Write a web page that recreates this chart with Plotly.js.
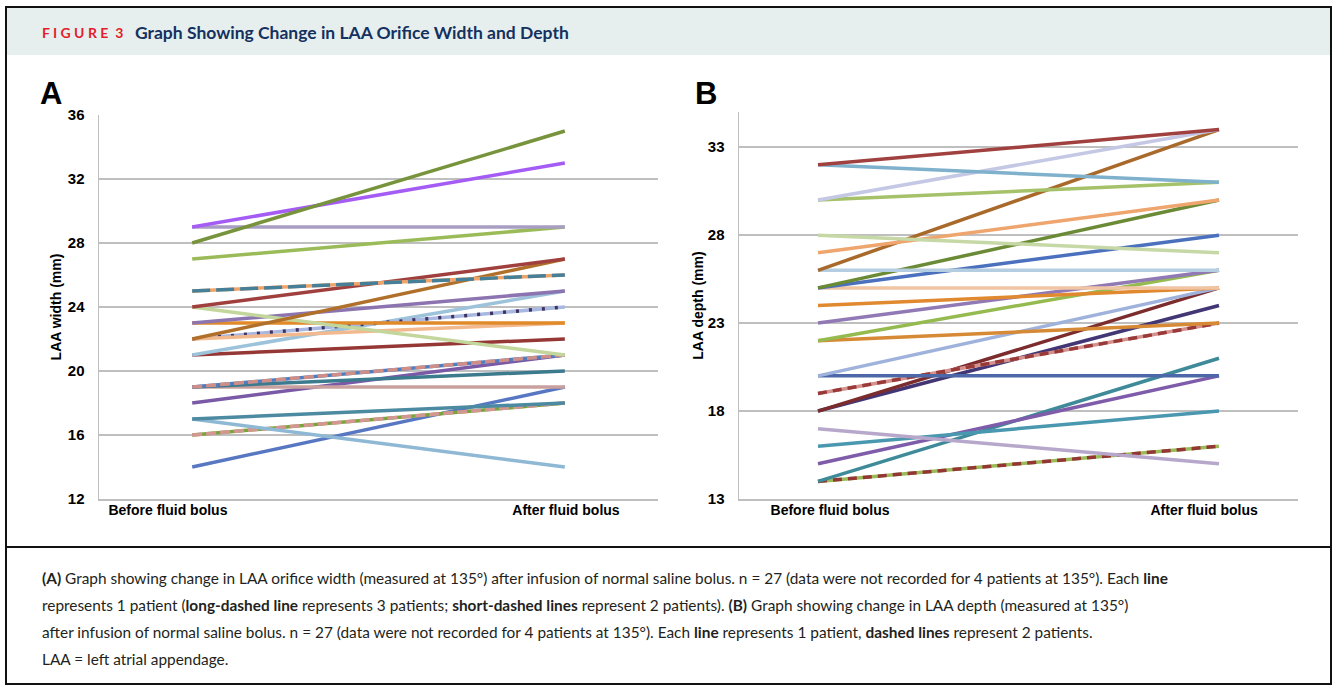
<!DOCTYPE html>
<html>
<head>
<meta charset="utf-8">
<script src="https://cdn.plot.ly/plotly-3.0.1.min.js"></script>
<style>
html,body{margin:0;padding:0;background:#fff;}
#chart{width:1336px;height:690px;}
</style>
</head>
<body>
<div id="chart"></div>
<script>
// ---------- DATA ----------
const categories = ["Before fluid bolus", "After fluid bolus"];
const categoryX = [0, 1];

// Panel A: LAA orifice width (mm)
const widthBefore = [28, 29, 29, 27, 25, 24, 22, 24, 23, 23, 22, 22, 21, 21, 19, 19, 19, 18, 17, 17, 16, 14];
const widthAfter  = [35, 33, 29, 29, 26, 27, 27, 21, 25, 23, 23, 24, 25, 22, 21, 20, 19, 21, 18, 14, 18, 19];
const widthTicks = [12, 16, 20, 24, 28, 32, 36];

// Panel B: LAA depth (mm)
const depthBefore = [32, 32, 30, 30, 28, 27, 26, 26, 25, 25, 25, 24, 23, 22, 22, 20, 20, 19, 18, 18, 17, 16, 15, 14, 14];
const depthAfter  = [34, 31, 34, 31, 27, 30, 34, 26, 30, 28, 25, 25, 26, 26, 23, 25, 20, 23, 25, 24, 15, 18, 20, 21, 16];
const depthTicks = [13, 18, 23, 28, 33];

// ---------- STYLES ----------
const widthColors = ["#77933C","#A45CF5","#A89DC2","#9BBB59","#F0A46A","#A0403E","#B0702A","#C3D69B","#8C74B0","#E08A2A","#F2B98E","#A8B8E0","#9DC3DA","#953735","#4F7DBE","#3C7A8E","#C9A09E","#7A5AA6","#4B8AA0","#8EB8D4","#7AA33C","#5877C2"];
const widthOverlay = [null,null,null,null,["#457F98","18px,6px"],null,null,null,null,null,null,["#3F3160","3px,10px"],null,null,["#CF8E88","10px,4px"],null,null,null,null,null,["#D49690","10px,4px"],null];
const depthColors = ["#A0413F","#7FB0CC","#C4C8E4","#A5C26A","#C6D8A6","#EFA56E","#A8692A","#B4CDE0","#6B8A35","#4A70BE","#F1C4A4","#E0892E","#9079B4","#95BB50","#D68A36","#9FB2DB","#4D68A8","#D4928F","#7C2C2C","#433675","#B7A8CB","#4A98B0","#7E5CAA","#3E8A98","#9BBB59"];
const depthOverlay = [null,null,null,null,null,null,null,null,null,null,null,null,null,null,null,null,null,["#9A3A38","9px,6px"],null,null,null,null,null,null,["#943634","9px,6px"]];

const W = 1336, H = 690;
const PX = x => x / W;
const PY = y => 1 - y / H;

const traces = [];
function addLines(before, after, colors, overlays, xa, ya) {
  for (let i = before.length - 1; i >= 0; i--) {
    const y = [before[i], after[i]];
    traces.push({type:"scatter", mode:"lines", x:categoryX, y:y, xaxis:xa, yaxis:ya,
      line:{color:colors[i], width:3.5}, hoverinfo:"skip", showlegend:false});
    if (overlays[i]) {
      traces.push({type:"scatter", mode:"lines", x:categoryX, y:y, xaxis:xa, yaxis:ya,
        line:{color:overlays[i][0], width:3.5, dash:overlays[i][1]}, hoverinfo:"skip", showlegend:false});
    }
  }
}
addLines(widthBefore, widthAfter, widthColors, widthOverlay, "x", "y");
addLines(depthBefore, depthAfter, depthColors, depthOverlay, "x2", "y2");

const tickFont = {family:"Liberation Sans, Arial, sans-serif", size:15, color:"#000"};
const catFont = {family:"Liberation Sans, Arial, sans-serif", size:14, color:"#000"};
const gridC = "#BFBFBF";

const layout = {
  width: W, height: H,
  margin:{l:0,r:0,t:0,b:0},
  paper_bgcolor:"#fff", plot_bgcolor:"rgba(0,0,0,0)",
  showlegend:false,
  xaxis:{domain:[PX(99),PX(658)], range:[-0.25,1.25], showgrid:false, zeroline:false,
    showline:true, linecolor:gridC, linewidth:1.5,
    tickmode:"array", tickvals:[-0.065,1.003], ticktext:categories.map(c=>"<b>"+c+"</b>"),
    ticks:"", tickfont:catFont, ticklabelstandoff:-2, anchor:"y"},
  yaxis:{domain:[PY(499),PY(115)], range:[12,36], tickmode:"array", tickvals:widthTicks,
    ticktext:widthTicks.map(v=>"<b>"+v+"</b>"), tickfont:tickFont,
    showgrid:true, gridcolor:gridC, gridwidth:1.5, zeroline:false,
    showline:true, linecolor:gridC, linewidth:1.5, ticks:"", ticklabelstandoff:10,
    title:{text:"<b>LAA width (mm)</b>", font:{family:"Liberation Sans, Arial, sans-serif", size:14, color:"#000"}, standoff:3},
    anchor:"x"},
  xaxis2:{domain:[PX(739),PX(1298)], range:[-0.197,1.197], showgrid:false, zeroline:false,
    showline:true, linecolor:gridC, linewidth:1.5,
    tickmode:"array", tickvals:[0.03,0.963], ticktext:categories.map(c=>"<b>"+c+"</b>"),
    ticks:"", tickfont:catFont, ticklabelstandoff:-2, anchor:"y2"},
  yaxis2:{domain:[PY(499),PY(112)], range:[13,35], tickmode:"array", tickvals:depthTicks,
    ticktext:depthTicks.map(v=>"<b>"+v+"</b>"), tickfont:tickFont,
    showgrid:true, gridcolor:gridC, gridwidth:1.5, zeroline:false,
    showline:true, linecolor:gridC, linewidth:1.5, ticks:"", ticklabelstandoff:10,
    title:{text:"<b>LAA depth (mm)</b>", font:{family:"Liberation Sans, Arial, sans-serif", size:14, color:"#000"}, standoff:1},
    anchor:"x2"},
  shapes:[
    {type:"rect", xref:"paper", yref:"paper", x0:PX(7), x1:PX(1330), y0:PY(55), y1:PY(8), fillcolor:"#E7EFEE", line:{width:0}, layer:"below"},
    {type:"rect", xref:"paper", yref:"paper", x0:PX(6), x1:PX(1331), y0:PY(684), y1:PY(7), line:{color:"#111", width:2}, fillcolor:"rgba(0,0,0,0)"},
    {type:"line", xref:"paper", yref:"paper", x0:PX(6), x1:PX(1331), y0:PY(547), y1:PY(547), line:{color:"#111", width:2}}
  ],
  annotations:[
    {xref:"paper", yref:"paper", x:PX(40), y:PY(33), xanchor:"left", yanchor:"middle", showarrow:false,
      text:"<b>F I G U R E  3</b>", font:{family:"Lato, sans-serif", size:14, color:"#E31D2B"}},
    {xref:"paper", yref:"paper", x:PX(133), y:PY(33), xanchor:"left", yanchor:"middle", showarrow:false,
      text:"<b>Graph Showing Change in LAA Orifice Width and Depth</b>", font:{family:"Lato, sans-serif", size:17.5, color:"#14315F"}},
    {xref:"paper", yref:"paper", x:PX(38), y:PY(93), xanchor:"left", yanchor:"middle", showarrow:false,
      text:"<b>A</b>", font:{family:"Liberation Sans, Arial, sans-serif", size:31, color:"#000"}},
    {xref:"paper", yref:"paper", x:PX(693), y:PY(93), xanchor:"left", yanchor:"middle", showarrow:false,
      text:"<b>B</b>", font:{family:"Liberation Sans, Arial, sans-serif", size:31, color:"#000"}},
    {xref:"paper", yref:"paper", x:PX(40), y:PY(578), xanchor:"left", yanchor:"middle", showarrow:false,
      text:"<b>(A)</b> Graph showing change in LAA orifice width (measured at 135°) after infusion of normal saline bolus. n = 27 (data were not recorded for 4 patients at 135°). Each <b>line</b>",
      font:{family:"Lato, sans-serif", size:15.4, color:"#231F20"}},
    {xref:"paper", yref:"paper", x:PX(40), y:PY(605), xanchor:"left", yanchor:"middle", showarrow:false,
      text:"represents 1 patient (<b>long-dashed line</b> represents 3 patients; <b>short-dashed lines</b> represent 2 patients). <b>(B)</b> Graph showing change in LAA depth (measured at 135°)",
      font:{family:"Lato, sans-serif", size:15.4, color:"#231F20"}},
    {xref:"paper", yref:"paper", x:PX(40), y:PY(632), xanchor:"left", yanchor:"middle", showarrow:false,
      text:"after infusion of normal saline bolus. n = 27 (data were not recorded for 4 patients at 135°). Each <b>line</b> represents 1 patient, <b>dashed lines</b> represent 2 patients.",
      font:{family:"Lato, sans-serif", size:15.4, color:"#231F20"}},
    {xref:"paper", yref:"paper", x:PX(40), y:PY(659), xanchor:"left", yanchor:"middle", showarrow:false,
      text:"LAA = left atrial appendage.",
      font:{family:"Lato, sans-serif", size:15.4, color:"#231F20"}}
  ]
};

Plotly.newPlot("chart", traces, layout, {staticPlot:true, displayModeBar:false});
</script>
</body>
</html>
